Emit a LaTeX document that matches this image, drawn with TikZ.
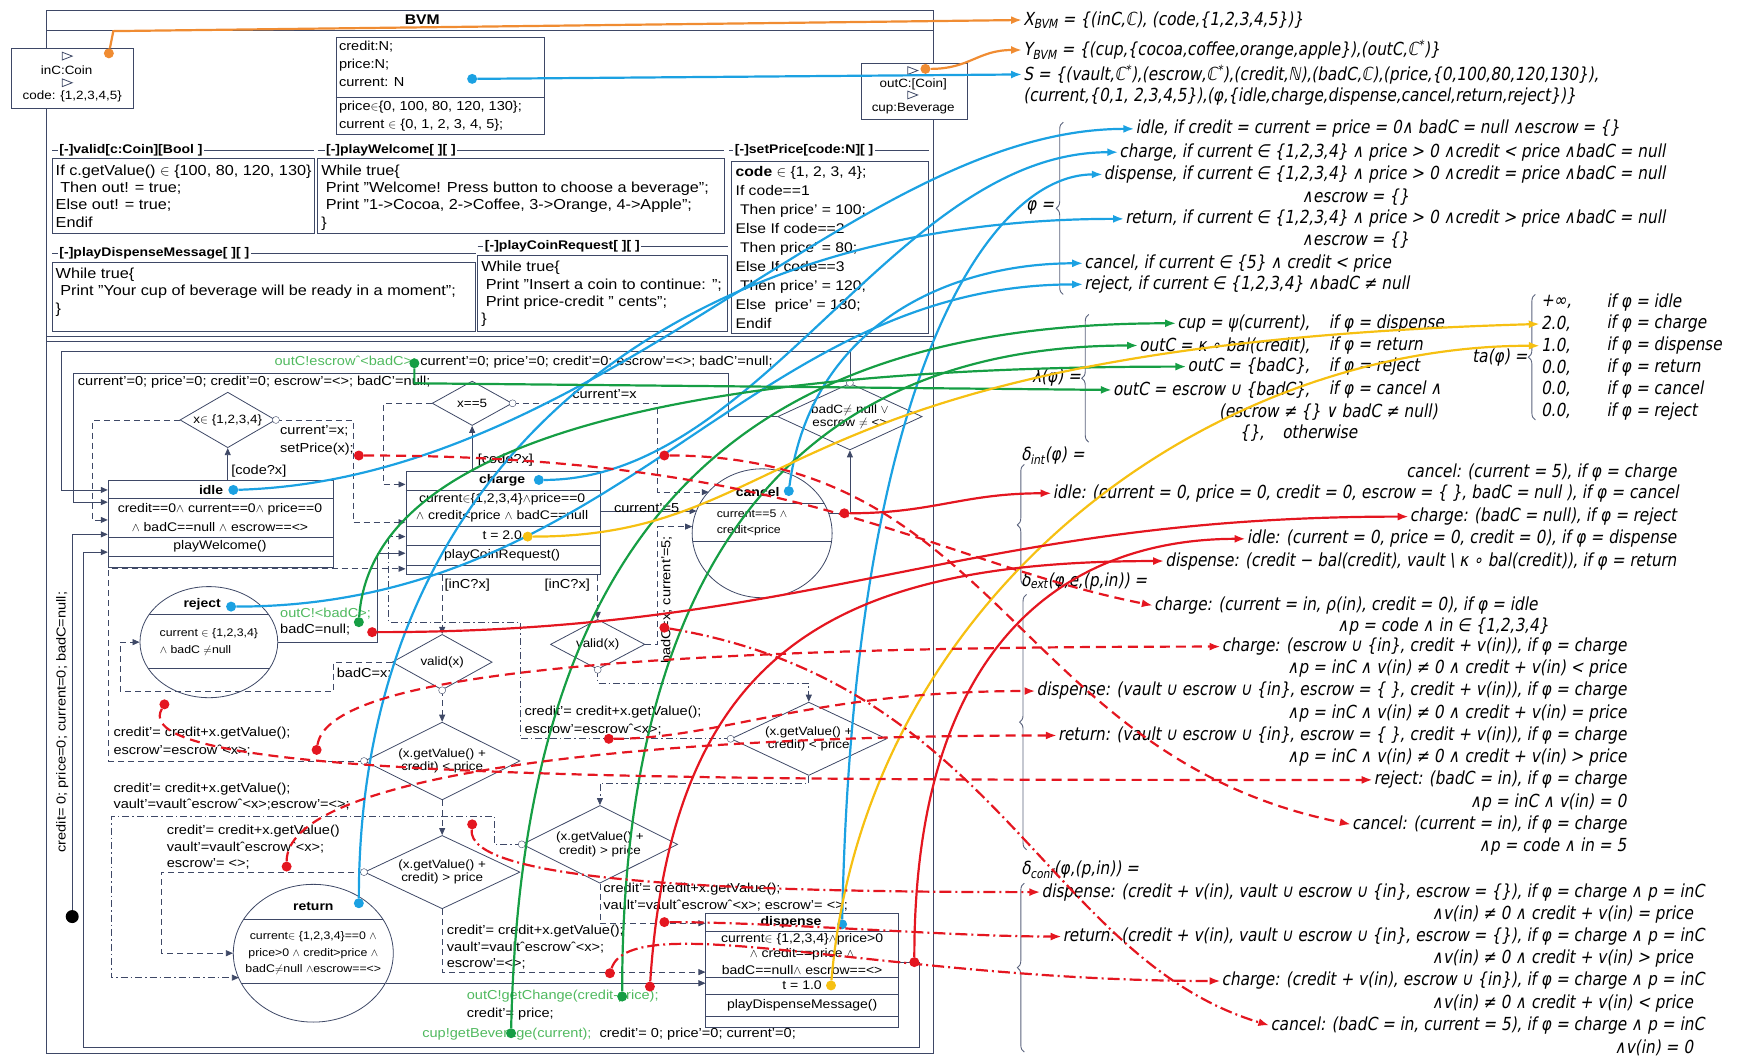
\documentclass[tikz,border=0pt]{standalone}
\usepackage{fontspec}
\setmainfont{Liberation Sans}[FakeStretch=1.12]
\newfontfamily\fml{DejaVu Sans}[FakeStretch=0.85,FakeSlant=0.18]
\usetikzlibrary{arrows.meta,calc,shapes.geometric,decorations.pathreplacing}

\definecolor{frame}{RGB}{62,72,102}
\definecolor{cblue}{RGB}{27,161,226}
\definecolor{cgreen}{RGB}{22,158,68}
\definecolor{tgreen}{RGB}{80,185,95}
\definecolor{cyel}{RGB}{246,192,18}
\definecolor{corange}{RGB}{240,140,50}
\definecolor{cred}{RGB}{228,22,32}
\newcommand{\un}{1.111pt}
\newcommand{\ptri}[2]{\draw[fr] (#1,#2) -- ++(9,3.5) -- ++(-9,3.5) -- cycle;}

\begin{document}
\begin{tikzpicture}[x=1.111pt,y=-1.111pt,
  fr/.style={draw=frame,line width=0.8pt},
  tr/.style={fr,-{Triangle[length=7pt,width=6pt]}},
  dsh/.style={dash pattern=on 6pt off 4pt},
  dd/.style={dash pattern=on 7pt off 3pt on 1.5pt off 3pt},
  box/.style={fr,anchor=north west,inner sep=0pt},
  ell/.style={fr,ellipse,inner sep=0pt},
  dia/.style={fr,diamond,aspect=2,inner sep=0pt,align=center,font=\fontsize{12}{13.5}\selectfont},
  vx/.style={circle,draw=frame,fill=white,inner sep=0pt,minimum size=7pt},
  cd/.style={font=\fontsize{14.5}{17.4}\selectfont,align=left,anchor=north west,inner sep=0pt},
  hd/.style={font=\bfseries\fontsize{12.5}{14}\selectfont,fill=white,inner sep=1.5pt,anchor=west},
  pt/.style={font=\fontsize{12}{14}\selectfont,inner sep=0pt},
  st/.style={font=\fontsize{12.5}{14}\selectfont,inner sep=0pt},
  bd/.style={font=\bfseries\fontsize{12.5}{14}\selectfont,inner sep=0pt},
  se/.style={font=\fontsize{11}{13}\selectfont,inner sep=0pt},
  lb/.style={font=\fontsize{13}{15}\selectfont,inner sep=0pt,anchor=west},
  fm/.style={font=\fml\fontsize{18}{20}\selectfont,inner sep=1pt},
  br/.style={draw=frame!85,line width=0.9pt,decorate,decoration={brace,amplitude=7pt}},
  dot/.style={circle,fill=#1,inner sep=0pt,minimum size=10pt},
  cl/.style={line width=2.2pt,-{Latex[length=11pt,width=8pt]}}]
\useasboundingbox (0,0) rectangle (1568,950);

% BVM frame
\draw[fr] (42,9) rectangle (840,948);
\draw[fr] (42,27) -- (840,27);
\node[font=\bfseries\fontsize{14}{16}\selectfont] (bvm) at (380,18) {BVM};
\draw[fr] (42,303) -- (840,303) (42,307) -- (840,307);

% ports
\node[box,fill=white,minimum width=110*\un,minimum height=54*\un] (inC) at (10,43) {};
\ptri{56}{47} \node[pt] at (60,63) {inC:Coin};
\ptri{56}{71} \node[pt] at (65,87) {code: \{1,2,3,4,5\}};
\node[box,fill=white,minimum width=95*\un,minimum height=50*\un] (outC) at (775,57) {};
\ptri{817}{60} \node[pt] at (822,76) {outC:[Coin]};
\ptri{817}{82} \node[pt] at (822,98) {cup:Beverage};

% state variables
\node[box,minimum width=188*\un,minimum height=88*\un] (vars) at (302,33) {};
\draw[fr] (302,88) -- (490,88);
\node[cd,font=\fontsize{13}{17.8}\selectfont] at (305,37) {credit:N;\\price:N;\\current: N};
\node[cd,font=\fontsize{13}{17.8}\selectfont] at (305,91) {price$\in$\{0, 100, 80, 120, 130\};\\current $\in$ \{0, 1, 2, 3, 4, 5\};};

% methods
\draw[fr] (47,135) -- (283,135);
\node[hd] at (52,135) {[-]valid[c:Coin][Bool ]};
\draw[fr] (47,143) rectangle (283,210);
\node[cd] at (50,148) {If c.getValue() $\in$ \{100, 80, 120, 130\}\\\ Then out! = true;\\Else out! = true;\\Endif};
\draw[fr] (286,135) -- (652,135);
\node[hd] at (292,135) {[-]playWelcome[ ][ ]};
\draw[fr] (286,143) rectangle (652,210);
\node[cd] at (289,148) {While true\{\\\ Print "Welcome! Press button to choose a beverage";\\\ Print "1->Cocoa, 2->Coffee, 3->Orange, 4->Apple";\\\}};
\draw[fr] (656,135) -- (836,135);
\node[hd] at (660,135) {[-]setPrice[code:N][ ]};
\draw[fr] (658,145) rectangle (836,300);
\node[cd,font=\fontsize{14}{18.9}\selectfont] at (662,150) {\textbf{code} $\in$ \{1, 2, 3, 4\};\\If code==1\\\ Then price' = 100;\\Else If code==2\\\ Then price' = 80;\\Else If code==3\\\ Then price' = 120;\\Else\ \ price' = 130;\\Endif};
\draw[fr] (47,228) -- (428,228);
\node[hd] at (52,228) {[-]playDispenseMessage[ ][ ]};
\draw[fr] (47,236) rectangle (428,298);
\node[cd] at (50,241) {While true\{\\\ Print "Your cup of beverage will be ready in a moment";\\\}};
\draw[fr] (430,222) -- (655,222);
\node[hd] at (435,222) {[-]playCoinRequest[ ][ ]};
\draw[fr] (430,230) rectangle (655,298);
\node[cd] at (433,235) {While true\{\\\ Print "Insert a coin to continue: ";\\\ Print price-credit " cents";\\\}};

% states
\node[box,minimum width=203*\un,minimum height=78*\un] (idle) at (97,432) {};
\draw[fr] (97,449) -- (300,449) (97,484) -- (300,484) (97,501) -- (300,501);
\node[bd] at (190,441) {idle};
\node[st] at (198,458) {credit==0$\wedge$ current==0$\wedge$ price==0};
\node[st] at (198,474) {$\wedge$ badC==null $\wedge$ escrow==<>};
\node[st] at (198,492) {playWelcome()};

\node[box,minimum width=175*\un,minimum height=93*\un] (charge) at (365,424) {};
\draw[fr] (365,441) -- (540,441) (365,474) -- (540,474) (365,491) -- (540,491) (365,509) -- (540,509);
\node[bd] at (452,432) {charge};
\node[st] at (452,449) {current$\in$\{1,2,3,4\}$\wedge$price==0};
\node[st] at (452,465) {$\wedge$ credit<price $\wedge$ badC==null};
\node[st] at (452,482) {t = 2.0};
\node[st] at (452,500) {playCoinRequest()};

\node[box,minimum width=173*\un,minimum height=102*\un] (disp) at (635,822) {};
\draw[fr] (635,838) -- (808,838) (635,880) -- (808,880) (635,895) -- (808,895) (635,915) -- (808,915);
\node[bd] at (712,830) {dispense};
\node[st] at (722,845) {current$\in$ \{1,2,3,4\}$\wedge$price>0};
\node[st] at (722,859) {$\wedge$ credit==price $\wedge$};
\node[st] at (722,873) {badC==null$\wedge$ escrow==<>};
\node[st] at (722,887) {t = 1.0};
\node[st] at (722,905) {playDispenseMessage()};

\node[ell,minimum width=126*\un,minimum height=116*\un] (cancel) at (686,480) {};
\begin{scope}
  \clip (cancel.center) ellipse [x radius=63,y radius=58];
  \draw[fr] (600,453) -- (760,453) (600,487) -- (760,487);
\end{scope}
\node[bd] at (682,443) {cancel};
\node[se,anchor=west] at (645,462) {current==5 $\wedge$};
\node[se,anchor=west] at (645,478) {credit<price};

\node[ell,minimum width=124*\un,minimum height=100*\un] (reject) at (188,578) {};
\begin{scope}
  \clip (reject.center) ellipse [x radius=62,y radius=50];
  \draw[fr] (110,553) -- (260,553) (110,602) -- (260,602);
\end{scope}
\node[bd] at (182,544) {reject};
\node[se] at (188,570) {current $\in$ \{1,2,3,4\}};
\node[se] at (176,586) {$\wedge$ badC $\neq$null};

\node[ell,minimum width=144*\un,minimum height=124*\un] (ret) at (282,858) {};
\begin{scope}
  \clip (ret.center) ellipse [x radius=72,y radius=62];
  \draw[fr] (200,828) -- (360,828) (200,885) -- (360,885);
\end{scope}
\node[bd] at (282,816) {return};
\node[se] at (282,843) {current$\in$ \{1,2,3,4\}==0 $\wedge$};
\node[se] at (282,858) {price>0 $\wedge$ credit>price $\wedge$};
\node[se] at (282,873) {badC$\neq$null $\wedge$escrow==<>};

% choices
\node[dia,minimum width=86*\un,minimum height=50*\un] (dx) at (205,378) {x$\in$ \{1,2,3,4\}};
\node[dia,minimum width=72*\un,minimum height=40*\un] (d5) at (425,363) {x==5};
\node[dia,minimum width=130*\un,minimum height=60*\un] (dbad) at (765,375) {badC$\neq$ null $\vee$\\escrow $\neq$ <>};
\node[dia,minimum width=90*\un,minimum height=50*\un] (dv1) at (398,596) {valid(x)};
\node[dia,minimum width=85*\un,minimum height=45*\un] (dv2) at (538,580) {valid(x)};
\node[dia,minimum width=140*\un,minimum height=70*\un] (dlt1) at (398,685) {(x.getValue() +\\credit) < price};
\node[dia,minimum width=140*\un,minimum height=66*\un] (dlt2) at (728,665) {(x.getValue() +\\credit) < price};
\node[dia,minimum width=140*\un,minimum height=66*\un] (dgt1) at (398,785) {(x.getValue() +\\credit) > price};
\node[dia,minimum width=140*\un,minimum height=70*\un] (dgt2) at (540,760) {(x.getValue() +\\credit) > price};
\node[circle,fill=black,inner sep=0pt,minimum size=13pt] (init) at (65,825) {};

% transitions
\draw[tr] (dbad.north) |- (55,316) |- ($(idle.north west)+(0,9)$);
\node[lb] at (247,326) {\textcolor{tgreen}{outC!escrowˆ<badC>;} current'=0; price'=0; credit'=0; escrow'=<>; badC'=null;};
\draw[tr] (dbad.west) -| (656,336) -| (66,452) -- ($(idle.north west)+(0,20)$);
\node[lb] at (70,344) {current'=0; price'=0; credit'=0; escrow'=<>; badC'=null;};
\draw[tr] (init) |- ($(idle.north west)+(0,49)$);
\node[lb,anchor=center,rotate=90] at (56,650) {credit= 0; price=0; current=0; badC=null;};
\draw[tr] (dx.south |- idle.north) -- (dx.south);
\node[lb] at (208,424) {[code?x]};
\draw[tr,dsh] (dx.west) -| (83,468) -- ($(idle.north west)+(0,36)$);
\draw[tr,dsh] (dx.east) -| (318,470) -- ($(charge.north west)+(0,46)$);
\node[lb] at (252,388) {current'=x;};
\node[lb] at (252,404) {setPrice(x);};
\draw[tr] (d5.south |- charge.north) -- (d5.south);
\node[lb] at (430,414) {[code?x]};
\draw[tr,dsh] (d5.east) -| (592,443) -- ($(cancel.center)+(-48,-37)$);
\node[lb] at (515,355) {current'=x};
\draw[tr,dsh] (d5.west) -| (345,436) -- ($(charge.north west)+(0,12)$);
\draw[tr] ($(charge.north east)+(0,36)$) -- ($(cancel.center)+(-59,-20)$);
\node[lb,anchor=south] at (582,462) {current'=5};
\draw[tr,dsh] (dv2.east) -| (592,474) -- ($(cancel.center)+(-63,-6)$);
\node[lb,anchor=center,rotate=90] at (600,540) {badC=x; current'=5;};
\draw[tr,dsh] (dv1.north |- charge.south) -- (dv1.north);
\node[lb] at (400,527) {[inC?x]};
\draw[tr,dsh] (dv2.north |- charge.south) -- (dv2.north);
\node[lb] at (490,527) {[inC?x]};
\draw[tr,dsh] (dv1.west) -| (300,622) -| (108,578) -- (reject.west);
\node[lb] at (303,606) {badC=x;};
\draw[tr] (reject.east) -- (340,578) |- ($(charge.north west)+(0,74)$);
\node[lb] at (252,552) {\textcolor{tgreen}{outC!<badC>;}};
\node[lb] at (252,567) {badC=null;};
\draw[tr,dsh] (dv1.south) -- (dlt1.north);
\draw[tr,dsh] (dlt1.west) -| (98,512) -- ($(charge.north west)+(0,88)$);
\node[lb] at (102,660) {credit'= credit+x.getValue();};
\node[lb] at (102,676) {escrow'=escrowˆ<x>;};
\draw[tr,dsh] (dlt1.south) -- (dgt1.north);
\draw[tr,dsh] (dgt1.west) -| (145,858) -- (ret.west);
\node[lb] at (150,748) {credit'= credit+x.getValue()};
\node[lb] at (150,763) {vault'=vaultˆescrowˆ<x>;};
\node[lb] at (150,778) {escrow'= <>;};
\draw[tr,dsh] (dgt1.south) |- ($(disp.north west)+(0,53)$);
\node[lb] at (402,838) {credit'= credit+x.getValue();};
\node[lb] at (402,853) {vault'=vaultˆescrowˆ<x>;};
\node[lb] at (402,868) {escrow'=<>;};
\draw[tr,dd] (dv2.south) -- (538,615) -| (dlt2.north);
\draw[tr,dd] (dlt2.west) -| (468,560) -- (350,560) |- ($(charge.north west)+(0,59)$);
\node[lb] at (472,641) {credit'= credit+x.getValue();};
\node[lb] at (472,657) {escrow'=escrowˆ<x>;};
\draw[tr,dd] (dlt2.south) -- (728,705) -| (dgt2.north);
\draw[tr,dd] (dgt2.west) -| (445,735) -| (100,880) -- ($(ret.center)+(-67,22)$);
\node[lb] at (102,710) {credit'= credit+x.getValue();};
\node[lb] at (102,724) {vault'=vaultˆescrowˆ<x>;escrow'=<>;};
\draw[tr,dsh] (dgt2.south) |- ($(disp.north west)+(0,9)$);
\node[lb] at (543,800) {credit'= credit+x.getValue();};
\node[lb] at (543,815) {vault'=vaultˆescrowˆ<x>; escrow'= <>;};
\draw[tr] ($(ret.center)+(65,27)$) -- ($(disp.north west)+(0,63)$);
\node[lb] at (420,897) {\textcolor{tgreen}{outC!getChange(credit-price);}};
\node[lb] at (420,913) {credit'= price;};
\draw[tr] ($(disp.north east)+(0,44)$) -| (828,943) -| (75,497) -- ($(idle.north west)+(0,65)$);
\node[lb] at (380,931) {\textcolor{tgreen}{cup!getBeverage(current);}\ \ credit'= 0; price'=0; current'=0;};
\draw[tr] ($(cancel.center)+(60,-18)$) -| (dbad.south);
\foreach \p in {dx.east,d5.east,dbad.north,dv1.south,dv2.south,dlt1.west,dlt2.west,dgt1.west,dgt2.west}
  \node[vx] at (\p) {};

% DEVS formulas
\node[fm,anchor=west] (fX) at (920,18) {X\textsubscript{BVM} = \{(inC,ℂ), (code,\{1,2,3,4,5\})\}};
\node[fm,anchor=west] (fY) at (920,45) {Y\textsubscript{BVM} = \{(cup,\{cocoa,coffee,orange,apple\}),(outC,ℂ\textsuperscript{*})\}};
\node[fm,anchor=west] (fS) at (920,67) {S = \{(vault,ℂ\textsuperscript{*}),(escrow,ℂ\textsuperscript{*}),(credit,ℕ),(badC,ℂ),(price,\{0,100,80,120,130\}),};
\node[fm,anchor=west] (fS2) at (920,87) {(current,\{0,1, 2,3,4,5\}),(φ,\{idle,charge,dispense,cancel,return,reject\})\}};

\node[fm,anchor=east] at (950,187) {φ =};
\draw[br] (957,265) -- (957,110);
\node[fm] (pIdle) at (1240,116) {idle, if credit = current = price = 0∧ badC = null ∧escrow = \{\}};
\node[fm,anchor=east] (pCharge) at (1500,137) {charge, if current ∈ \{1,2,3,4\} ∧ price > 0 ∧credit < price ∧badC = null};
\node[fm,anchor=east] (pDisp) at (1500,157) {dispense, if current ∈ \{1,2,3,4\} ∧ price > 0 ∧credit = price ∧badC = null};
\node[fm] at (1220,177) {∧escrow = \{\}};
\node[fm,anchor=east] (pRet) at (1500,197) {return, if current ∈ \{1,2,3,4\} ∧ price > 0 ∧credit > price ∧badC = null};
\node[fm] at (1220,216) {∧escrow = \{\}};
\node[fm,anchor=west] (pCancel) at (975,237) {cancel, if current ∈ \{5\} ∧ credit < price};
\node[fm,anchor=west] (pReject) at (975,256) {reject, if current ∈ \{1,2,3,4\} ∧badC ≠ null};

\node[fm,anchor=east] at (974,340) {λ(φ) =};
\draw[br] (980,398) -- (980,283);
\node[fm,anchor=east] (lCup) at (1180,291) {cup = ψ(current),};
\node[fm,anchor=west] at (1195,291) {if φ = dispense};
\node[fm,anchor=east] (lKappa) at (1180,311) {outC = κ ∘ bal(credit),};
\node[fm,anchor=west] at (1195,311) {if φ = return};
\node[fm,anchor=east] (lBad) at (1180,330) {outC = \{badC\},};
\node[fm,anchor=west] at (1195,330) {if φ = reject};
\node[fm,anchor=east] (lEsc) at (1180,351) {outC = escrow ∪ \{badC\},};
\node[fm,anchor=west] at (1195,351) {if φ = cancel ∧};
\node[fm,anchor=east] at (1295,371) {(escrow ≠ \{\} ∨ badC ≠ null)};
\node[fm,anchor=west] at (1115,390) {\{\},\quad otherwise};

\node[fm,anchor=east] at (1376,322) {ta(φ) =};
\draw[br] (1382,378) -- (1382,265);
\foreach \v/\c [count=\i from 0] in {+∞/idle,2.0/charge,1.0/dispense,0.0/return,0.0/cancel,0.0/reject}{
  \node[fm,anchor=west] (ta\i) at (1386,{272+19.6*\i}) {\v,};
  \node[fm,anchor=west] at (1445,{272+19.6*\i}) {if φ = \c};
}

\node[fm,anchor=west] at (918,410) {δ\textsubscript{int}(φ) =};
\draw[br] (922,527) -- (922,418);
\node[fm,anchor=east] (iCancel) at (1510,425) {cancel: (current = 5), if φ = charge};
\node[fm,anchor=east] (iIdle) at (1512,444) {idle: (current = 0, price = 0, credit = 0, escrow = \{ \}, badC = null ), if φ = cancel};
\node[fm,anchor=east] (iCharge) at (1510,465) {charge: (badC = null), if φ = reject};
\node[fm,anchor=east] (iIdle2) at (1510,485) {idle: (current = 0, price = 0, credit = 0), if φ = dispense};
\node[fm,anchor=east] (iDisp) at (1510,505) {dispense: (credit − bal(credit), vault \textbackslash\ κ ∘ bal(credit)), if φ = return};

\node[fm,anchor=west] at (918,523) {δ\textsubscript{ext}(φ,e,(p,in)) =};
\draw[br] (924,765) -- (924,535);
\node[fm,anchor=east] (eCharge1) at (1385,545) {charge: (current = in, ρ(in), credit = 0), if φ = idle};
\node[fm,anchor=east] at (1395,564) {∧p = code ∧ in ∈ \{1,2,3,4\}};
\node[fm,anchor=east] (eCharge2) at (1465,582) {charge: (escrow ∪ \{in\}, credit + v(in)), if φ = charge};
\node[fm,anchor=east] at (1465,602) {∧p = inC ∧ v(in) ≠ 0 ∧ credit + v(in) < price};
\node[fm,anchor=east] (eDisp) at (1465,622) {dispense: (vault ∪ escrow ∪ \{in\}, escrow = \{ \}, credit + v(in)), if φ = charge};
\node[fm,anchor=east] at (1465,642) {∧p = inC ∧ v(in) ≠ 0 ∧ credit + v(in) = price};
\node[fm,anchor=east] (eRet) at (1465,662) {return: (vault ∪ escrow ∪ \{in\}, escrow = \{ \}, credit + v(in)), if φ = charge};
\node[fm,anchor=east] at (1465,682) {∧p = inC ∧ v(in) ≠ 0 ∧ credit + v(in) > price};
\node[fm,anchor=east] (eRej) at (1465,702) {reject: (badC = in), if φ = charge};
\node[fm,anchor=east] at (1465,722) {∧p = inC ∧ v(in) = 0};
\node[fm,anchor=east] (eCan) at (1465,742) {cancel: (current = in), if φ = charge};
\node[fm,anchor=east] at (1465,762) {∧p = code ∧ in = 5};

\node[fm,anchor=west] at (918,783) {δ\textsubscript{conf}(φ,(p,in)) =};
\draw[br] (922,947) -- (922,795);
\node[fm,anchor=east] (cDisp) at (1535,803) {dispense: (credit + v(in), vault ∪ escrow ∪ \{in\}, escrow = \{\}), if φ = charge ∧ p = inC};
\node[fm,anchor=east] at (1525,823) {∧v(in) ≠ 0 ∧ credit + v(in) = price};
\node[fm,anchor=east] (cRet) at (1535,843) {return: (credit + v(in), vault ∪ escrow ∪ \{in\}, escrow = \{\}), if φ = charge ∧ p = inC};
\node[fm,anchor=east] at (1525,863) {∧v(in) ≠ 0 ∧ credit + v(in) > price};
\node[fm,anchor=east] (cCharge) at (1535,883) {charge: (credit + v(in), escrow ∪ \{in\}), if φ = charge ∧ p = inC};
\node[fm,anchor=east] at (1525,903) {∧v(in) ≠ 0 ∧ credit + v(in) < price};
\node[fm,anchor=east] (cCan) at (1535,923) {cancel: (badC = in, current = 5), if φ = charge ∧ p = inC};
\node[fm,anchor=east] at (1525,943) {∧v(in) = 0};

% mapping arrows: orange
\node[dot=corange] (oInC) at (98,48) {};
\node[dot=corange] (oOutC) at (833,62) {};
\coordinate (oBend) at (102,28);
\draw[cl,corange] (oInC) -- (oBend) -- (fX.west);
\draw[cl,corange] (oOutC) .. controls +(40,0) and +(-40,0) .. (fY.west);
% blue
\node[dot=cblue] (bCur) at (425,71) {};
\node[dot=cblue] (bIdle) at (210,441) {};
\node[dot=cblue] (bCharge) at (485,432) {};
\node[dot=cblue] (bCancel) at (710,442) {};
\node[dot=cblue] (bReject) at (208,546) {};
\node[dot=cblue] (bReturn) at (323,813) {};
\node[dot=cblue] (bDisp) at (758,832) {};
\draw[cl,cblue] (bCur) -- (fS.west);
\draw[cl,cblue] (bIdle) .. controls +(330,-10) and +(-250,0) .. (pIdle.west);
\draw[cl,cblue] (bCharge) .. controls +(200,0) and +(-200,0) .. (pCharge.west);
\draw[cl,cblue] (bCancel) .. controls +(20,-150) and +(-120,0) .. (pCancel.west);
\draw[cl,cblue] (bReject) .. controls +(350,0) and +(-300,0) .. (pReject.west);
\draw[cl,cblue] (bReturn) .. controls +(0,-400) and +(-400,0) .. (pRet.west);
\draw[cl,cblue] (bDisp) .. controls +(10,-500) and +(-100,0) .. (pDisp.west);
% green
\node[dot=cgreen] (gEsc) at (373,327) {};
\node[dot=cgreen] (gBad) at (323,560) {};
\node[dot=cgreen] (gChg) at (560,897) {};
\node[dot=cgreen] (gCup) at (460,930) {};
\coordinate (gEscB) at (373,345);
\draw[cl,cgreen] (gEsc) -- (gEscB) -- (lEsc.west);
\draw[cl,cgreen] (gBad) .. controls +(10,-150) and +(-500,0) .. (lBad.west);
\draw[cl,cgreen] (gChg) .. controls +(0,-400) and +(-300,0) .. (lKappa.west);
\draw[cl,cgreen] (gCup) .. controls +(10,-450) and +(-400,0) .. (lCup.west);
% yellow
\node[dot=cyel] (yCharge) at (475,483) {};
\node[dot=cyel] (yDisp) at (748,887) {};
\draw[cl,cyel] (yCharge) .. controls +(250,0) and +(-700,20) .. (ta1.west);
\draw[cl,cyel] (yDisp) .. controls +(30,-350) and +(-300,0) .. (ta2.west);
% red: internal transitions
\node[dot=cred] (rCancel) at (760,462) {};
\node[dot=cred] (rReject) at (335,569) {};
\node[dot=cred] (rDisp) at (823,866) {};
\node[dot=cred] (rRet) at (585,888) {};
\draw[cl,cred] (rCancel) .. controls +(80,0) and +(-80,0) .. (iIdle.west);
\draw[cl,cred] (rReject) .. controls +(400,0) and +(-400,0) .. (iCharge.west);
\draw[cl,cred] (rDisp) .. controls +(0,-300) and +(-150,0) .. (iIdle2.west);
\draw[cl,cred] (rRet) .. controls +(20,-300) and +(-300,0) .. (iDisp.west);
% red dashed: external transitions
\node[dot=cred] (eIdleS) at (323,410) {};
\node[dot=cred] (eCanS) at (598,410) {};
\node[dot=cred] (eRejS) at (148,634) {};
\node[dot=cred] (eChgS) at (285,675) {};
\node[dot=cred] (eDisS) at (548,665) {};
\node[dot=cred] (eRetS) at (258,780) {};
\draw[cl,cred,dash pattern=on 10pt off 6pt] (eIdleS) .. controls +(400,0) and +(-200,-40) .. (eCharge1.west);
\draw[cl,cred,dash pattern=on 10pt off 6pt] (eCanS) .. controls +(300,0) and +(-300,-60) .. (eCan.west);
\draw[cl,cred,dash pattern=on 10pt off 6pt] (eRejS) .. controls +(-40,70) and +(-600,0) .. (eRej.west);
\draw[cl,cred,dash pattern=on 10pt off 6pt] (eChgS) .. controls +(10,-60) and +(-600,0) .. (eCharge2.west);
\draw[cl,cred,dash pattern=on 10pt off 6pt] (eDisS) .. controls +(100,0) and +(-200,0) .. (eDisp.west);
\draw[cl,cred,dash pattern=on 10pt off 6pt] (eRetS) .. controls +(0,-80) and +(-400,0) .. (eRet.west);
% red dash-dot: confluent transitions
\node[dot=cred] (cDisS) at (425,742) {};
\node[dot=cred] (cRetS) at (598,830) {};
\node[dot=cred] (cChgS) at (549,876) {};
\node[dot=cred] (cCanS) at (598,565) {};
\draw[cl,cred,dash pattern=on 12pt off 4pt on 2pt off 4pt] (cDisS) .. controls +(-5,50) and +(-300,0) .. (cDisp.west);
\draw[cl,cred,dash pattern=on 12pt off 4pt on 2pt off 4pt] (cRetS) .. controls +(100,0) and +(-100,0) .. (cRet.west);
\draw[cl,cred,dash pattern=on 12pt off 4pt on 2pt off 4pt] (cChgS) .. controls +(20,-60) and +(-300,0) .. (cCharge.west);
\draw[cl,cred,dash pattern=on 12pt off 4pt on 2pt off 4pt] (cCanS) .. controls +(300,50) and +(-200,-60) .. (cCan.west);
\end{tikzpicture}
\end{document}
